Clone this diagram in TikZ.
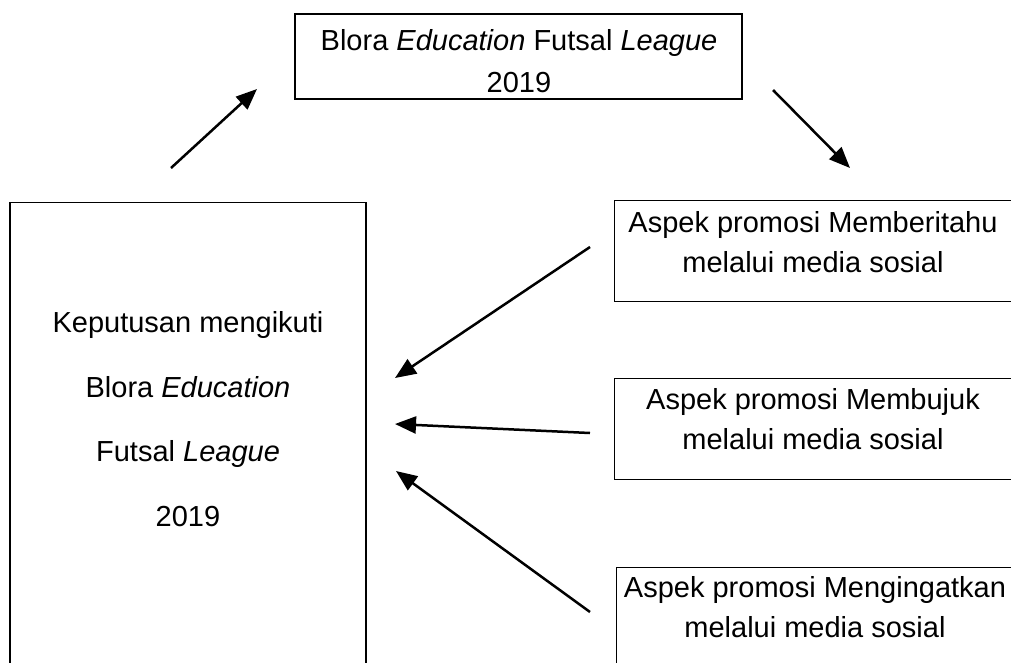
\documentclass[tikz,border=0pt]{standalone}
\usepackage{fontspec}
\setmainfont{Liberation Sans}
\usetikzlibrary{arrows.meta,positioning}

\begin{document}
\begin{tikzpicture}[
    x=1pt, y=-1pt,
    font=\fontsize{29}{40}\selectfont,
    flow/.style={-{Triangle[length=21pt,width=17pt]}, line width=2.5pt},
    frame/.style={draw, line width=1.2pt, inner sep=0pt},
    aspect/.style={frame, minimum width=398pt, minimum height=101pt, anchor=north west},
    caption/.style={align=center, inner sep=0pt}
  ]
  \useasboundingbox (0,0) rectangle (1011,662);

  % top box
  \node[frame, minimum width=447pt, minimum height=85pt] (league) at (518.5,56.5) {};
  \node[caption, font=\fontsize{29}{42}\selectfont] (leaguetext) at (519,61)
    {Blora \textit{Education} Futsal \textit{League}\\2019};

  % left box
  \node[frame, minimum width=356pt, minimum height=520pt, anchor=north] (decision) at (188,202) {};
  \node[caption, font=\fontsize{29}{64.5}\selectfont] (decisiontext) at (188,419)
    {Keputusan mengikuti\\Blora \textit{Education}\\Futsal \textit{League}\\2019};

  % right boxes
  \node[aspect] (inform) at (614,200) {};
  \node[caption] (informtext) at (813,242)
    {Aspek promosi Memberitahu\\melalui media sosial};
  \node[aspect] (persuade) at (614,378) {};
  \node[caption] (persuadetext) at (813,419)
    {Aspek promosi Membujuk\\melalui media sosial};
  \node[aspect] (remind) at (616,567) {};
  \node[caption] (remindtext) at (815,607)
    {Aspek promosi Mengingatkan\\melalui media sosial};

  % arrow ends
  \coordinate (upS) at (171,168);
  \coordinate (upE) at (257,89);
  \coordinate (downS) at (773,90);
  \coordinate (downE) at (850,168);
  \coordinate (informS) at (590,247);
  \coordinate (informE) at (395,378);
  \coordinate (persuadeS) at (590,433);
  \coordinate (persuadeE) at (395,424);
  \coordinate (remindS) at (590,612);
  \coordinate (remindE) at (396,471);

  \draw[flow] (upS) -- (upE);
  \draw[flow] (downS) -- (downE);
  \draw[flow] (informS) -- (informE);
  \draw[flow] (persuadeS) -- (persuadeE);
  \draw[flow] (remindS) -- (remindE);
\end{tikzpicture}
\end{document}
